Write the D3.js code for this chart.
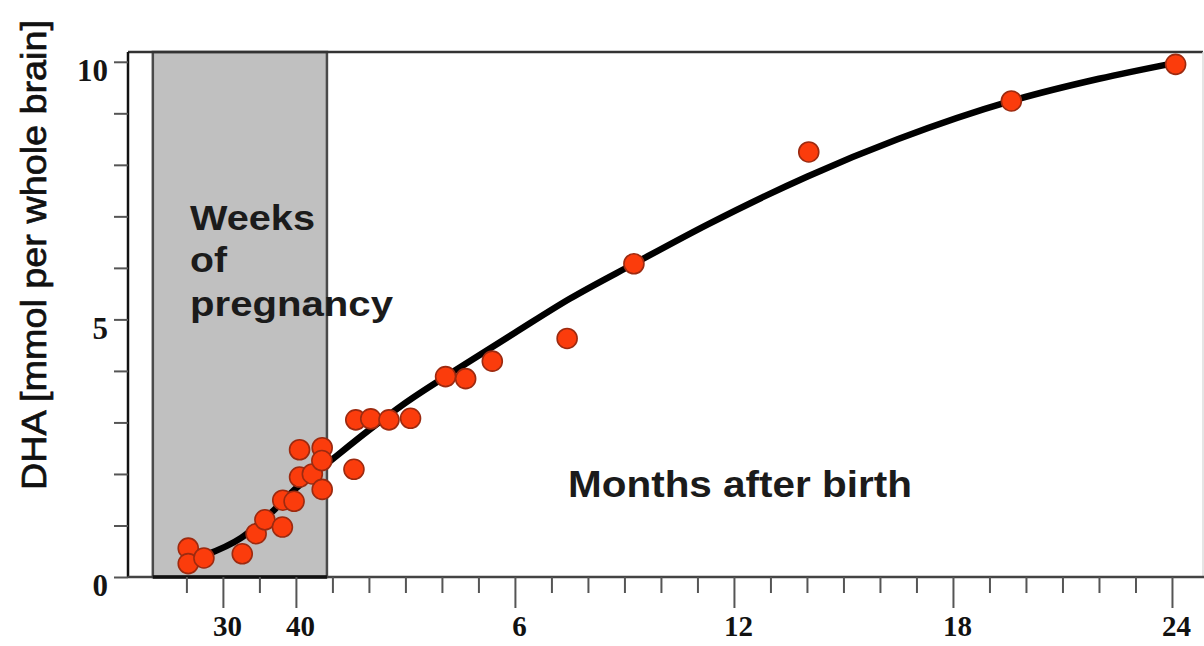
<!DOCTYPE html>
<html>
<head>
<meta charset="utf-8">
<script src="https://cdn.jsdelivr.net/npm/d3@7"></script>
<style>
  html, body { margin: 0; padding: 0; background: #ffffff; }
  svg { display: block; }
</style>
</head>
<body>
<svg id="chart" width="1204" height="646"></svg>
<script>
// ---------- data ----------
// prenatal measurements: gestational age in weeks, DHA in mmol per whole brain
const prenatalWeeks = [25.25, 25.25, 27.4, 32.65, 34.55, 35.75, 38.15, 38.2, 39.75];
const prenatalDHA   = [0.56, 0.26, 0.37, 0.45, 0.84, 1.11, 0.97, 1.49, 1.47];
// postnatal measurements: age in months after birth
const postnatalMonths = [0.1, 0.1, 0.45, 0.72, 0.71, 0.72, 1.59, 1.64, 2.05, 2.55, 3.14, 4.1, 4.65, 5.38, 7.43, 9.26, 14.05, 19.6, 24.1];
const postnatalDHA    = [2.47, 1.94, 2.0, 2.51, 2.26, 1.7, 2.09, 3.05, 3.07, 3.05, 3.08, 3.89, 3.85, 4.19, 4.63, 6.08, 8.25, 9.24, 9.95];
// fitted growth curve
const curveWeeks    = [27.5, 32.5, 37, 40];
const curveWeeksDHA = [0.42, 0.76, 1.3, 1.72];
const curveMonths    = [0.85, 2, 3, 4.5, 6, 7.5, 9.26, 11.3, 14, 16.5, 19.6, 22, 24.1];
const curveMonthsDHA = [2.2, 2.85, 3.38, 4.07, 4.74, 5.4, 6.08, 6.85, 7.77, 8.5, 9.24, 9.67, 9.98];
// axes
const weekTicks = [25, 30, 35, 40];
const weekTickLabels = [30, 40];
const monthTicks = d3.range(1, 25);
const monthTickLabels = [6, 12, 18, 24];
const yTicks = d3.range(0, 11);
const yTickLabels = [0, 5, 10];
const pregnancyStartWeek = 20.4;
const pregnancyEndMonth = 0.85;
const yTitle = "DHA [mmol per whole brain]";
const pregnancyLabel = ["Weeks", "of", "pregnancy"];
const birthLabel = "Months after birth";

// ---------- layout ----------
const plotLeft = 128, plotRight = 1203, plotTop = 52, plotBottom = 577;
const svg = d3.select("#chart");

const xMonths = d3.scaleLinear().domain([-4.6, 24.85]).range([plotLeft, plotRight]);
const xWeeks = d3.scaleLinear().domain([17, 40]).range([xMonths(-4.6), xMonths(0)]);
const y = d3.scaleLinear().domain([0, 10.19]).range([plotBottom, plotTop]);

// pregnancy shading
svg.append("rect")
  .attr("x", xWeeks(pregnancyStartWeek))
  .attr("y", plotTop)
  .attr("width", xMonths(pregnancyEndMonth) - xWeeks(pregnancyStartWeek))
  .attr("height", plotBottom - plotTop)
  .attr("fill", "#c0c0c0")
  .attr("stroke", "#4a4a4a")
  .attr("stroke-width", 2.5);

// frame lines
svg.append("line").attr("x1", plotLeft).attr("x2", plotRight).attr("y1", plotTop).attr("y2", plotTop)
  .attr("stroke", "#333").attr("stroke-width", 2.5);
svg.append("line").attr("x1", plotRight).attr("x2", plotRight).attr("y1", plotTop).attr("y2", plotBottom)
  .attr("stroke", "#dddddd").attr("stroke-width", 1.5);
svg.append("line").attr("x1", plotLeft).attr("x2", plotLeft).attr("y1", plotTop).attr("y2", plotBottom)
  .attr("stroke", "#111").attr("stroke-width", 2.5);
svg.append("line").attr("x1", plotLeft).attr("x2", 1204).attr("y1", plotBottom).attr("y2", plotBottom)
  .attr("stroke", "#444").attr("stroke-width", 2.5);
svg.append("line").attr("x1", xWeeks(pregnancyStartWeek)).attr("x2", xMonths(pregnancyEndMonth))
  .attr("y1", plotBottom).attr("y2", plotBottom)
  .attr("stroke", "#111").attr("stroke-width", 3.5);

// ---------- axes ----------
function styleXAxis(g, majors) {
  g.select(".domain").remove();
  g.selectAll(".tick line")
    .attr("stroke", "#555").attr("stroke-width", 2)
    .attr("y2", d => majors.includes(d) ? 31 : 16);
  g.selectAll(".tick text")
    .attr("y", 59).attr("dy", 0).attr("dx", 4)
    .attr("fill", "#111")
    .style("font-family", "'Liberation Serif', 'DejaVu Serif', serif")
    .style("font-weight", "bold")
    .style("font-size", "29px");
}
svg.append("g")
  .attr("transform", `translate(0,${plotBottom})`)
  .call(d3.axisBottom(xWeeks).tickValues(weekTicks).tickSize(16).tickSizeOuter(0)
        .tickFormat(d => weekTickLabels.includes(d) ? d : ""))
  .call(g => styleXAxis(g, weekTickLabels));
svg.append("g")
  .attr("transform", `translate(0,${plotBottom})`)
  .call(d3.axisBottom(xMonths).tickValues(monthTicks).tickSize(16).tickSizeOuter(0)
        .tickFormat(d => monthTickLabels.includes(d) ? d : ""))
  .call(g => styleXAxis(g, monthTickLabels));

svg.append("g")
  .attr("transform", `translate(${plotLeft},0)`)
  .call(d3.axisLeft(y).tickValues(yTicks).tickSize(14).tickSizeOuter(0)
        .tickFormat(d => yTickLabels.includes(d) ? d : ""))
  .call(g => {
    g.select(".domain").remove();
    g.selectAll(".tick line").attr("stroke", "#555").attr("stroke-width", 2);
    g.selectAll(".tick text")
      .attr("x", -20).attr("dy", "0.6em")
      .attr("fill", "#151515")
      .style("font-family", "'Liberation Serif', 'DejaVu Serif', serif")
      .style("font-weight", "bold")
      .style("font-size", "31px");
  });

// ---------- curve ----------
const curvePts = curveWeeks.map((w, i) => [xWeeks(w), y(curveWeeksDHA[i])])
  .concat(curveMonths.map((m, i) => [xMonths(m), y(curveMonthsDHA[i])]));
svg.append("path")
  .datum(curvePts)
  .attr("d", d3.line().curve(d3.curveMonotoneX))
  .attr("fill", "none")
  .attr("stroke", "#000")
  .attr("stroke-width", 6.5)
  .attr("stroke-linecap", "round");

// ---------- points ----------
const pts = prenatalWeeks.map((w, i) => ({x: xWeeks(w), y: y(prenatalDHA[i])}))
  .concat(postnatalMonths.map((m, i) => ({x: xMonths(m), y: y(postnatalDHA[i])})));
svg.append("g").selectAll("circle")
  .data(pts)
  .join("circle")
  .attr("cx", d => d.x)
  .attr("cy", d => d.y)
  .attr("r", 10)
  .attr("fill", "#fb3c0c")
  .attr("stroke", "#9c2a10")
  .attr("stroke-width", 1.6);

// ---------- texts ----------
const sans = "'Liberation Sans', Arial, sans-serif";
const pregLines = [
  {t: pregnancyLabel[0], y: 230, w: 125},
  {t: pregnancyLabel[1], y: 272, w: 37},
  {t: pregnancyLabel[2], y: 316, w: 203}
];
svg.append("g").selectAll("text")
  .data(pregLines)
  .join("text")
  .attr("x", 190)
  .attr("y", d => d.y)
  .attr("textLength", d => d.w)
  .attr("lengthAdjust", "spacingAndGlyphs")
  .attr("fill", "#1b1b1b")
  .style("font-family", sans)
  .style("font-weight", "bold")
  .style("font-size", "35px")
  .text(d => d.t);

svg.append("text")
  .attr("x", 568).attr("y", 497)
  .attr("textLength", 344)
  .attr("lengthAdjust", "spacingAndGlyphs")
  .attr("fill", "#1b1b1b")
  .style("font-family", sans)
  .style("font-weight", "bold")
  .style("font-size", "36px")
  .text(birthLabel);

svg.append("text")
  .attr("transform", "translate(46,255) rotate(-90)")
  .attr("text-anchor", "middle")
  .attr("textLength", 470)
  .attr("lengthAdjust", "spacingAndGlyphs")
  .attr("fill", "#111")
  .attr("stroke", "#111")
  .attr("stroke-width", 0.7)
  .style("font-family", sans)
  .style("font-size", "35px")
  .text(yTitle);
</script>
</body>
</html>
